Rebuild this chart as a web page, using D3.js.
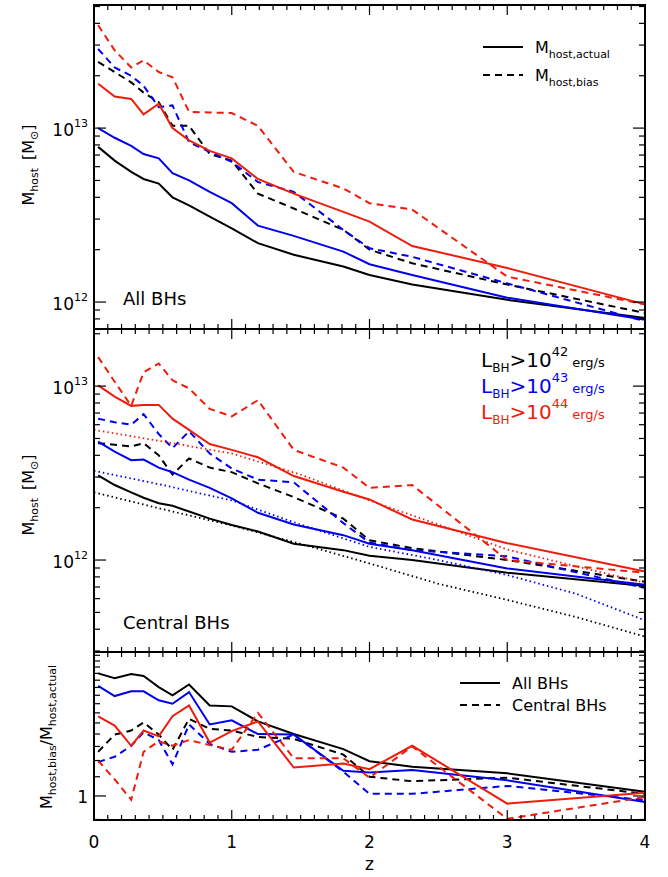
<!DOCTYPE html>
<html><head><meta charset="utf-8">
<script src="https://cdn.jsdelivr.net/npm/d3@7"></script>
<style>body{margin:0;background:#fff}text{font-family:"DejaVu Sans",sans-serif}</style>
</head><body><svg id="c" width="668" height="877"></svg>
<script>
const z = [0.03,0.15,0.27,0.36,0.47,0.57,0.69,0.84,1.0,1.19,1.45,1.81,2.0,2.31,3.0,4.0];
// top panel: all BHs (units 1e12 Msun)
const allActual = {
  k: [7.8,6.5,5.6,5.1,4.8,4.0,3.6,3.1,2.65,2.18,1.87,1.6,1.43,1.26,1.03,0.81],
  b: [10,8.8,7.9,7.1,6.7,5.5,5.0,4.3,3.7,2.75,2.4,1.95,1.65,1.43,1.06,0.79],
  r: [18,15.2,14.7,12,13.8,10,8.5,7.4,6.7,5.1,4.2,3.3,2.9,2.1,1.57,0.97]
};
const allBias = {
  k: [24,21,18.3,16,14.1,10.3,10.3,7.1,6.5,4.2,3.45,2.6,2.0,1.67,1.26,0.865],
  b: [28.5,22.3,20,17.5,13.2,13.5,8.3,7.3,6.4,4.9,4.3,2.6,2.04,1.82,1.28,0.775],
  r: [39,28,22.3,24.5,21,19.6,12.4,12.3,12.2,10.3,5.6,4.5,3.7,3.4,1.4,0.97]
};
// middle panel: central BHs
const cenActual = {
  k: [3.07,2.7,2.45,2.28,2.12,2.05,1.9,1.73,1.59,1.46,1.24,1.14,1.06,1.0,0.845,0.71],
  b: [4.8,4.2,3.75,3.78,3.4,3.2,2.9,2.6,2.26,1.87,1.6,1.39,1.24,1.14,0.895,0.72],
  r: [10.1,8.7,7.7,7.8,7.8,6.5,5.6,4.65,4.3,3.9,3.04,2.47,2.23,1.71,1.25,0.86]
};
const cenBias = {
  k: [4.7,4.6,4.5,4.7,4.0,3.1,3.84,3.4,3.2,2.76,2.3,1.73,1.3,1.17,1.0,0.75],
  b: [6.5,6.2,6.0,6.9,5.3,4.4,5.5,4.1,3.36,2.9,2.8,1.63,1.26,1.14,1.05,0.69],
  r: [14.7,10.6,7.7,12,13.5,10.8,9.7,7.4,6.7,8.3,4.3,3.4,2.6,2.7,1.0,0.845]
};
const zFit = [0,0.5,1,1.5,2,2.5,3,3.5,4];
const cenFit = {
  k: [2.45,1.96,1.58,1.24,0.956,0.73,0.59,0.47,0.363],
  b: [3.26,2.7,2.2,1.6,1.19,1.0,0.82,0.64,0.45],
  r: [5.6,4.8,4.1,3.1,2.2,1.6,1.15,0.92,0.74]
};
// bottom panel: ratio bias/actual
const ratioAll = {
  k: [3.2,3.06,3.18,3.12,2.81,2.6,2.88,2.36,2.34,2.03,1.8,1.56,1.39,1.32,1.24,1.04],
  b: [2.84,2.58,2.7,2.7,2.48,2.4,2.68,1.97,2.05,1.8,1.79,1.27,1.25,1.28,1.16,0.944],
  r: [2.13,1.95,1.61,1.86,1.76,2.13,2.36,1.66,1.85,2.03,1.31,1.36,1.29,1.61,0.93,1.03]
};
const ratioCen = {
  k: [1.52,1.79,1.86,2.01,1.79,1.55,2.08,1.89,1.86,1.75,1.72,1.48,1.2,1.15,1.19,1.02],
  b: [1.38,1.45,1.61,1.83,1.7,1.35,1.97,1.64,1.52,1.55,1.79,1.26,1.02,1.02,1.1,0.96],
  r: [1.4,1.17,0.965,1.52,1.68,1.61,1.7,1.62,1.55,2.2,1.43,1.43,1.19,1.6,0.805,0.99]
};
const colors = {k:"#000", b:"#0000ee", r:"#ee1c0c"};

const svg = d3.select("#c");
const x = d3.scaleLinear().domain([0,4]).range([94,645]);
const panels = [
  {y0:5, y1:329, dom:[7e11,5.1e13]},
  {y0:329, y1:652, dom:[2.96e11,2.13e13]},
  {y0:652, y1:820, dom:[0.796,3.92]}
];
panels.forEach(p => p.y = d3.scaleLog().domain(p.dom).range([p.y1,p.y0]));

function drawLine(p, xs, vals, col, dash, scale) {
  const line = d3.line().x((d,i)=>x(xs[i])).y(d=>p.y(d*scale));
  svg.append("path").datum(vals).attr("d", line).attr("fill","none")
    .attr("stroke", col).attr("stroke-width", dash==="dot"?1.8:2)
    .attr("stroke-dasharray", dash==="dash"?"7,5":dash==="dot"?"1.5,3":null);
}

["k","b","r"].forEach(c=>{
  drawLine(panels[0], z, allActual[c], colors[c], null, 1e12);
  drawLine(panels[0], z, allBias[c], colors[c], "dash", 1e12);
  drawLine(panels[1], z, cenActual[c], colors[c], null, 1e12);
  drawLine(panels[1], z, cenBias[c], colors[c], "dash", 1e12);
  drawLine(panels[1], zFit, cenFit[c], colors[c], "dot", 1e12);
  drawLine(panels[2], z, ratioAll[c], colors[c], null, 1);
  drawLine(panels[2], z, ratioCen[c], colors[c], "dash", 1);
});

// frames and ticks
panels.forEach((p,i)=>{
  svg.append("rect").attr("x",94).attr("y",p.y0).attr("width",551).attr("height",p.y1-p.y0)
    .attr("fill","none").attr("stroke","#000").attr("stroke-width",2);
  const g = svg.append("g").attr("stroke","#000").attr("stroke-width",1.2);
  d3.range(0,4.001,0.1).forEach(v=>{
    const major = Math.abs(v-Math.round(v))<1e-6;
    const L = major?10:5;
    g.append("line").attr("x1",x(v)).attr("x2",x(v)).attr("y1",p.y1).attr("y2",p.y1-L);
    g.append("line").attr("x1",x(v)).attr("x2",x(v)).attr("y1",p.y0).attr("y2",p.y0+L);
  });
  p.y.ticks(20).forEach(v=>{
    const m = v/Math.pow(10,Math.floor(Math.log10(v)+1e-9));
    const major = Math.abs(m-1)<1e-6;
    const L = major?12:6;
    g.append("line").attr("x1",94).attr("x2",94+L).attr("y1",p.y(v)).attr("y2",p.y(v));
    g.append("line").attr("x1",645).attr("x2",645-L).attr("y1",p.y(v)).attr("y2",p.y(v));
  });
});

function pow10(yv, e) {
  const t = svg.append("text").attr("x",88).attr("y",yv+8).attr("text-anchor","end").attr("font-size",17);
  t.append("tspan").text("10");
  t.append("tspan").attr("dy",-9).attr("font-size",11).text(e);
}
pow10(panels[0].y(1e13),"13"); pow10(panels[0].y(1e12),"12");
pow10(panels[1].y(1e13),"13"); pow10(panels[1].y(1e12),"12");
svg.append("text").attr("x",88).attr("y",panels[2].y(1)+7).attr("text-anchor","end").attr("font-size",17).text("1");

[0,1,2,3,4].forEach(v=>svg.append("text").attr("x",x(v)).attr("y",848).attr("text-anchor","middle").attr("font-size",17).text(v));
svg.append("text").attr("x",x(2)).attr("y",870).attr("text-anchor","middle").attr("font-size",17).text("z");

function ylab(cx, cy) {
  const t = svg.append("text").attr("transform",`translate(${cx},${cy}) rotate(-90)`).attr("text-anchor","middle").attr("font-size",16);
  t.append("tspan").text("M");
  t.append("tspan").attr("dy",4).attr("font-size",11).text("host");
  t.append("tspan").attr("dy",-4).attr("dx",8).text("[M");
  t.append("tspan").attr("dy",4).attr("font-size",11).text("⊙");
  t.append("tspan").attr("dy",-4).text("]");
}
ylab(34,165); ylab(34,495);
{
  const t = svg.append("text").attr("transform",`translate(52,737) rotate(-90)`).attr("text-anchor","middle").attr("font-size",16);
  t.append("tspan").text("M");
  t.append("tspan").attr("dy",4).attr("font-size",11).text("host,bias");
  t.append("tspan").attr("dy",-4).text("/M");
  t.append("tspan").attr("dy",4).attr("font-size",11).text("host,actual");
}

// legends
function legItem(x1, yv, dash, lab, sub) {
  svg.append("line").attr("x1",x1).attr("x2",x1+40).attr("y1",yv).attr("y2",yv)
    .attr("stroke","#000").attr("stroke-width",2).attr("stroke-dasharray",dash?"7,5":null);
  const t = svg.append("text").attr("x",x1+52).attr("y",yv+6).attr("font-size",16);
  t.append("tspan").text(lab);
  if (sub) t.append("tspan").attr("dy",5).attr("font-size",11).text(sub);
}
legItem(483,47,false,"M","host,actual");
legItem(483,75,true,"M","host,bias");
legItem(460,683,false,"All BHs");
legItem(460,705,true,"Central BHs");

svg.append("text").attr("x",123).attr("y",305).attr("font-size",18).text("All BHs");
svg.append("text").attr("x",123).attr("y",629).attr("font-size",18).text("Central BHs");

[["42","#000",367],["43",colors.b,393],["44",colors.r,419]].forEach(([e,c,yv])=>{
  const t = svg.append("text").attr("x",481).attr("y",yv).attr("fill",c).attr("font-size",20);
  t.append("tspan").text("L");
  t.append("tspan").attr("dy",5).attr("font-size",12).text("BH");
  t.append("tspan").attr("dy",-5).text(">10");
  t.append("tspan").attr("dy",-11).attr("font-size",13).text(e);
  t.append("tspan").attr("dy",11).attr("dx",4).attr("font-size",13).text("erg/s");
});
</script></body></html>
